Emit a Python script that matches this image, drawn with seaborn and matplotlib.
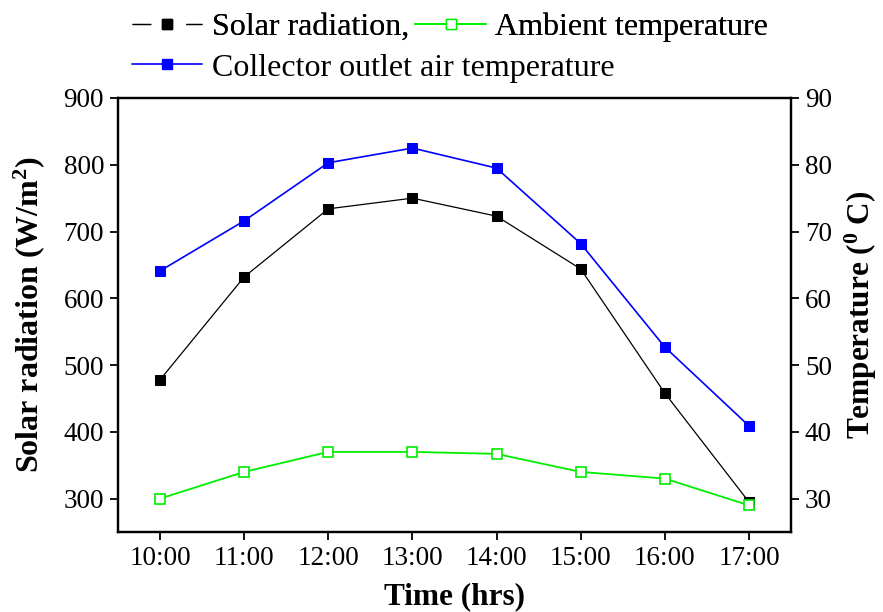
import matplotlib
matplotlib.use("Agg")
import matplotlib.pyplot as plt
import seaborn as sns
import pandas as pd
from matplotlib.lines import Line2D

times = ["10:00", "11:00", "12:00", "13:00", "14:00", "15:00", "16:00", "17:00"]
solar_radiation = [478, 632, 734, 750, 723, 644, 458, 295]
ambient_temp = [30.0, 34.0, 37.0, 37.0, 36.7, 34.0, 33.0, 29.0]
collector_temp = [64.1, 71.6, 80.3, 82.5, 79.5, 68.2, 52.7, 40.9]

sns.set_theme(style="ticks")
plt.rcParams["font.family"] = ["Liberation Serif", "DejaVu Serif"]
plt.rcParams["mathtext.fontset"] = "custom"
plt.rcParams["mathtext.rm"] = "Liberation Serif"
plt.rcParams["mathtext.bf"] = "Liberation Serif:bold"
for k in ["text.color", "axes.labelcolor", "xtick.color", "ytick.color",
          "axes.edgecolor"]:
    plt.rcParams[k] = "black"

df = pd.DataFrame({
    "idx": range(len(times)),
    "time": times,
    "solar": solar_radiation,
    "ambient": ambient_temp,
    "collector": collector_temp,
})

fig = plt.figure(figsize=(8.83, 6.12), dpi=100)
ax = fig.add_axes([0.1336, 0.1307, 0.7622, 0.7092])
ax2 = ax.twinx()

sns.lineplot(data=df, x="idx", y="solar", ax=ax, color="black", lw=0.9,
             marker="s", markersize=7, markerfacecolor="black",
             markeredgecolor="black")
sns.lineplot(data=df, x="idx", y="collector", ax=ax2, color="#0000ff", lw=1.2,
             marker="s", markersize=7, markerfacecolor="#0000ff",
             markeredgecolor="#0000ff")
sns.lineplot(data=df, x="idx", y="ambient", ax=ax2, color="#00ee00", lw=1.3,
             marker="s", markersize=7, markerfacecolor="white",
             markeredgecolor="#00ee00", markeredgewidth=1.2)

ax.set_xlim(-0.5, len(times) - 0.5)
ax.set_ylim(250, 900)
ax2.set_ylim(25, 90)
ax.set_xticks(range(len(times)))
ax.set_xticklabels(times)
ax.set_yticks(range(300, 901, 100))
ax2.set_yticks(range(30, 91, 10))

for a in (ax, ax2):
    for s in a.spines.values():
        s.set_linewidth(1.6)
        s.set_color("black")
    a.tick_params(direction="out", length=6, width=1.3, labelsize=19.5,
                  colors="black", pad=4)

ax.set_xlabel("Time (hrs)", fontsize=22.5, fontweight="bold", labelpad=8)
ax.set_ylabel("Solar radiation (W/m$\\mathbf{^2}$)", fontsize=23,
              fontweight="bold", labelpad=12)
ax2.set_ylabel("Temperature ($\\mathbf{^0}$ C)", fontsize=22.5,
               fontweight="bold", labelpad=8)

h_solar = Line2D([], [], color="black", lw=0.9, linestyle=(0, (15, 28)),
                 marker="s", markersize=7, markerfacecolor="black",
                 markeredgecolor="black")
h_amb = Line2D([], [], color="#00ee00", lw=1.3, marker="s", markersize=7,
               markerfacecolor="white", markeredgecolor="#00ee00")
h_col = Line2D([], [], color="#0000ff", lw=1.2, marker="s", markersize=7,
               markerfacecolor="#0000ff", markeredgecolor="#0000ff")

leg1 = fig.legend([h_solar, h_amb], ["Solar radiation,", "Ambient temperature"],
                  ncol=2, loc="upper left", bbox_to_anchor=(0.135, 1.0),
                  frameon=False, fontsize=23, handlelength=2.2,
                  handletextpad=0.3, columnspacing=0.2, borderaxespad=0)
leg2 = fig.legend([h_col], ["Collector outlet air temperature"],
                  loc="upper left", bbox_to_anchor=(0.135, 0.934),
                  frameon=False, fontsize=23, handlelength=2.2,
                  handletextpad=0.3, borderaxespad=0)
fig.add_artist(leg1)

fig.savefig("out.png", dpi=100)
